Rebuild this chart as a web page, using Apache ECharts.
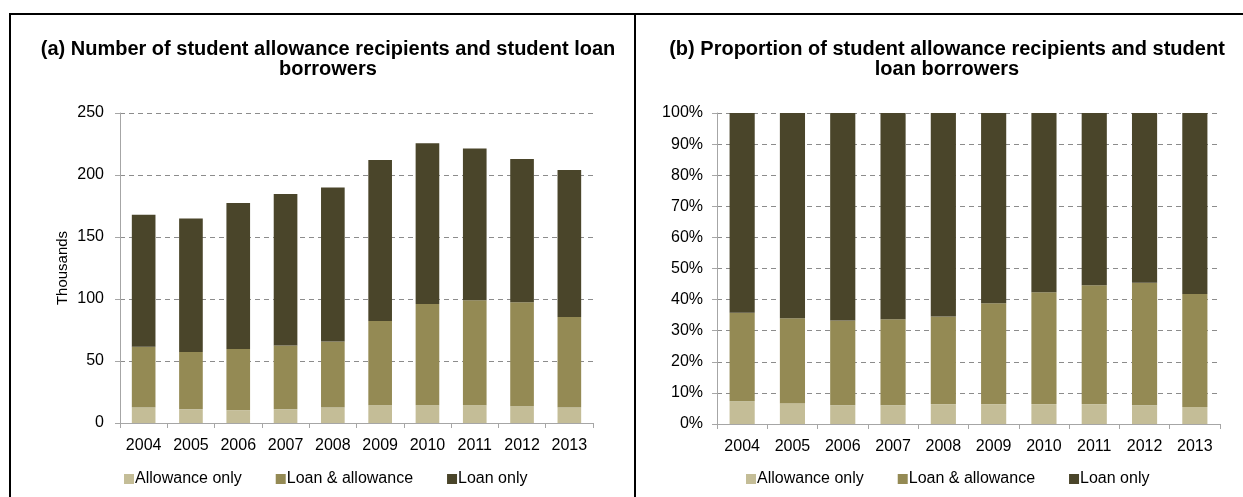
<!DOCTYPE html>
<html>
<head>
<meta charset="utf-8">
<script src="https://cdn.jsdelivr.net/npm/echarts@6/dist/echarts.min.js"></script>
<style>
html,body{margin:0;padding:0;background:#fff;}
#c{width:1243px;height:497px;}
</style>
</head>
<body>
<div id="c"></div>
<script>
var years = ['2004','2005','2006','2007','2008','2009','2010','2011','2012','2013'];
var seriesNames = ['Allowance only','Loan & allowance','Loan only'];
var colors = ['#c4bd97','#948a54','#4a452a'];

// (a) counts, thousands
var countAllowanceOnly    = [12.4, 11.0, 10.2, 11.0, 12.4, 14.3, 14.3, 14.3, 13.5, 12.4];
var countLoanAndAllowance = [49.1, 46.2, 49.4, 51.6, 53.4, 68.0, 81.7, 84.7, 83.9, 73.1];
var countLoanOnly         = [106.5, 107.8, 117.9, 122.1, 124.2, 129.7, 129.7, 122.4, 115.6, 118.5];

// (b) proportions, percent
var pctAllowanceOnly    = [7.3, 6.7, 6.0, 6.0, 6.4, 6.4, 6.4, 6.4, 6.0, 5.5];
var pctLoanAndAllowance = [28.5, 27.3, 27.3, 27.7, 28.2, 32.4, 36.0, 38.2, 39.4, 36.3];
var pctLoanOnly         = [64.2, 66.0, 66.7, 66.3, 65.4, 61.2, 57.6, 55.4, 54.6, 58.2];

var titleA = '(a) Number of student allowance recipients and student loan\nborrowers';
var titleB = '(b) Proportion of student allowance recipients and student\nloan borrowers';

var FONT = 'Liberation Sans, Arial, sans-serif';
var chart = echarts.init(document.getElementById('c'));

function xAxis(gi){
  return {
    type:'category', gridIndex:gi, data:years,
    axisLine:{lineStyle:{color:'#a6a6a6',width:1}},
    axisTick:{show:true,length:5,lineStyle:{color:'#a6a6a6'}},
    axisLabel:{color:'#000',fontSize:16,fontFamily:FONT,margin:15}
  };
}
function yAxis(gi,max,interval,fmt,name,margin){
  var a = {
    type:'value', gridIndex:gi, min:0, max:max, interval:interval,
    axisLine:{show:true,lineStyle:{color:'#a6a6a6',width:1}},
    axisTick:{show:true,length:5,lineStyle:{color:'#a6a6a6'}},
    axisLabel:{color:'#000',fontSize:16,fontFamily:FONT,margin:margin,formatter:fmt},
    splitLine:{show:true,lineStyle:{color:'#8c8c8c',type:[5,4],width:1}}
  };
  if(name){
    a.name = name; a.nameLocation='middle'; a.nameGap=50; a.nameRotate=90;
    a.nameTextStyle={color:'#000',fontSize:15,fontFamily:FONT};
  }
  return a;
}
function bars(gi, arrs){
  return arrs.map(function(d,i){
    return {
      name:seriesNames[i], type:'bar', stack:'s'+gi, xAxisIndex:gi, yAxisIndex:gi,
      data:d, barWidth:'50%', itemStyle:{color:colors[i]}, animation:false
    };
  });
}
function legend(left){
  return {
    data:seriesNames.map(function(n,i){return {name:n,itemStyle:{color:colors[i]}};}),
    left:left, top:466, itemWidth:10, itemHeight:10, itemGap:34, icon:'rect',
    textStyle:{fontSize:16,color:'#000',fontFamily:FONT,padding:[0,0,0,-4]}
  };
}

var option = {
  animation:false,
  textStyle:{fontFamily:FONT},
  title:[
    {text:titleA,left:323,top:34,textAlign:'center',
     textStyle:{fontSize:20,fontWeight:'bold',color:'#000',fontFamily:FONT,lineHeight:20}},
    {text:titleB,left:942,top:34,textAlign:'center',
     textStyle:{fontSize:20,fontWeight:'bold',color:'#000',fontFamily:FONT,lineHeight:20}}
  ],
  legend:[legend(119), legend(741)],
  grid:[
    {left:120,right:650,top:113,bottom:74},
    {left:717,right:23,top:113,bottom:73}
  ],
  xAxis:[xAxis(0),xAxis(1)],
  yAxis:[yAxis(0,250,50,'{value}','Thousands',16),yAxis(1,100,10,'{value}%',null,14)],
  series:bars(0,[countAllowanceOnly,countLoanAndAllowance,countLoanOnly])
    .concat(bars(1,[pctAllowanceOnly,pctLoanAndAllowance,pctLoanOnly])),
  graphic:[
    {type:'line',shape:{x1:9,y1:14,x2:1243,y2:14},style:{stroke:'#000',lineWidth:2},silent:true},
    {type:'line',shape:{x1:10,y1:13,x2:10,y2:497},style:{stroke:'#000',lineWidth:2},silent:true},
    {type:'line',shape:{x1:635,y1:13,x2:635,y2:497},style:{stroke:'#000',lineWidth:2},silent:true}
  ]
};
chart.setOption(option);
</script>
</body>
</html>
